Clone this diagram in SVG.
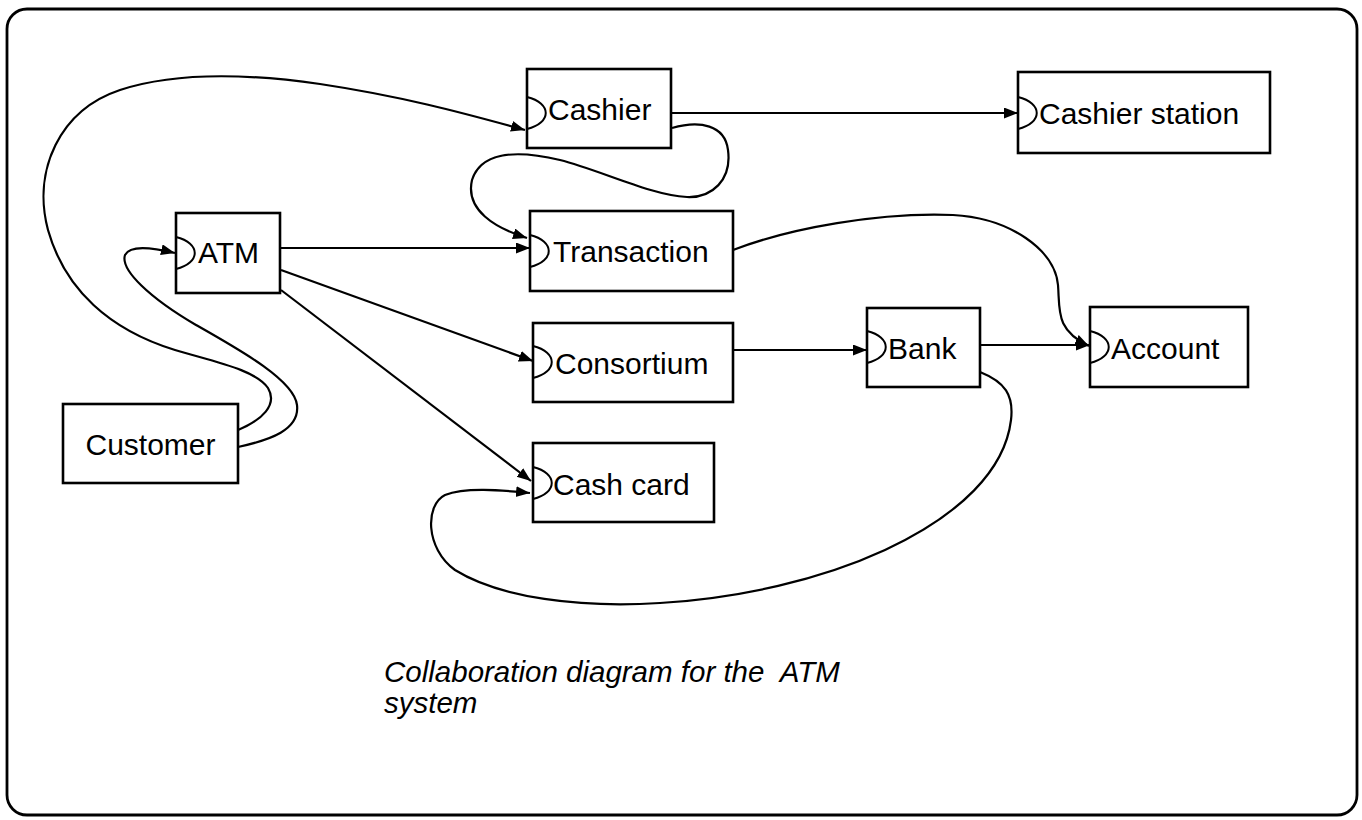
<svg xmlns="http://www.w3.org/2000/svg" xmlns:xlink="http://www.w3.org/1999/xlink" width="1362" height="820" viewBox="0 0 1362 820">
<style>
.frame{fill:none;stroke:#000;stroke-width:2.8}
.box{fill:#fff;stroke:#000;stroke-width:2.6}
.port{fill:none;stroke:#000;stroke-width:2}
.lbl{font-family:"Liberation Sans",Arial,sans-serif;font-size:30px;fill:#000}
.conn{fill:none;stroke:#000;stroke-width:2.2;marker-end:url(#arr)}
.cap{font-family:"Liberation Sans",Arial,sans-serif;font-size:29.5px;font-style:italic;fill:#000}
</style>
<defs>
<marker id="arr" markerUnits="userSpaceOnUse" markerWidth="15" markerHeight="12" refX="14" refY="5.5" orient="auto">
<path d="M0,0 L14,5.5 L0,11 z" fill="#000"/>
</marker>
<path id="port" d="M0,-16 C25,-10 25,10 0,16"/>
</defs>
<rect class="frame" x="7" y="9" width="1350" height="806" rx="20" ry="20"/>
<g id="connectors">
<path class="conn" d="M238,430 C262,420 278,405 268,388 C256,370 215,362 175,350 C110,330 65,290 48,230 C32,170 60,110 120,90 C175,72 250,74 320,84 C400,96 460,112 525,130"/>
<path class="conn" d="M238,447 C270,440 300,430 297,405 C294,380 240,350 196,325 C150,298 120,270 125,255 C130,245 150,247 175,253"/>
<path class="conn" d="M672,113 L1018,113"/>
<path class="conn" d="M672,128 C700,120 725,125 728,150 C732,180 712,198 687,197 C650,195 600,170 560,160 C510,148 480,155 472,180 C465,210 495,228 527,238"/>
<path class="conn" d="M281,248 L530,248"/>
<path class="conn" d="M281,270 L533,361"/>
<path class="conn" d="M281,290 L531,481"/>
<path class="conn" d="M733,250 C790,228 880,212 953,215 C1010,218 1055,250 1058,285 C1060,310 1055,330 1089,346"/>
<path class="conn" d="M733,350 L867,350"/>
<path class="conn" d="M981,345 L1090,345"/>
<path class="conn" d="M980,372 C1005,382 1014,395 1011,420 C1005,470 960,515 885,550 C820,580 740,598 660,603 C580,608 500,598 455,570 C425,548 425,505 445,495 C465,487 500,490 530,493"/>
</g>
<g id="cashier">
<rect class="box" x="527" y="69" width="144" height="79"/>
<use xlink:href="#port" class="port" x="527" y="113"/>
<text class="lbl" x="548" y="120">Cashier</text>
</g>
<g id="cashier-station">
<rect class="box" x="1018" y="72" width="252" height="81"/>
<use xlink:href="#port" class="port" x="1018" y="113"/>
<text class="lbl" x="1039" y="124">Cashier station</text>
</g>
<g id="atm">
<rect class="box" x="176" y="213" width="104" height="80"/>
<use xlink:href="#port" class="port" x="176" y="253"/>
<text class="lbl" x="198" y="263">ATM</text>
</g>
<g id="transaction">
<rect class="box" x="530" y="211" width="203" height="80"/>
<use xlink:href="#port" class="port" x="530" y="251"/>
<text class="lbl" x="553" y="262">Transaction</text>
</g>
<g id="consortium">
<rect class="box" x="533" y="323" width="200" height="79"/>
<use xlink:href="#port" class="port" x="533" y="362"/>
<text class="lbl" x="555" y="374">Consortium</text>
</g>
<g id="bank">
<rect class="box" x="867" y="308" width="113" height="79"/>
<use xlink:href="#port" class="port" x="867" y="347"/>
<text class="lbl" x="888" y="359">Bank</text>
</g>
<g id="account">
<rect class="box" x="1090" y="307" width="158" height="80"/>
<use xlink:href="#port" class="port" x="1090" y="347"/>
<text class="lbl" x="1111" y="359">Account</text>
</g>
<g id="customer">
<rect class="box" x="63" y="404" width="175" height="79"/>
<text class="lbl" x="150.5" y="455" text-anchor="middle">Customer</text>
</g>
<g id="cash-card">
<rect class="box" x="533" y="443" width="181" height="79"/>
<use xlink:href="#port" class="port" x="533" y="483"/>
<text class="lbl" x="553" y="495">Cash card</text>
</g>
<g id="caption">
<text class="cap" x="384" y="682" xml:space="preserve">Collaboration diagram for the  ATM</text>
<text class="cap" x="384" y="713">system</text>
</g>
</svg>
